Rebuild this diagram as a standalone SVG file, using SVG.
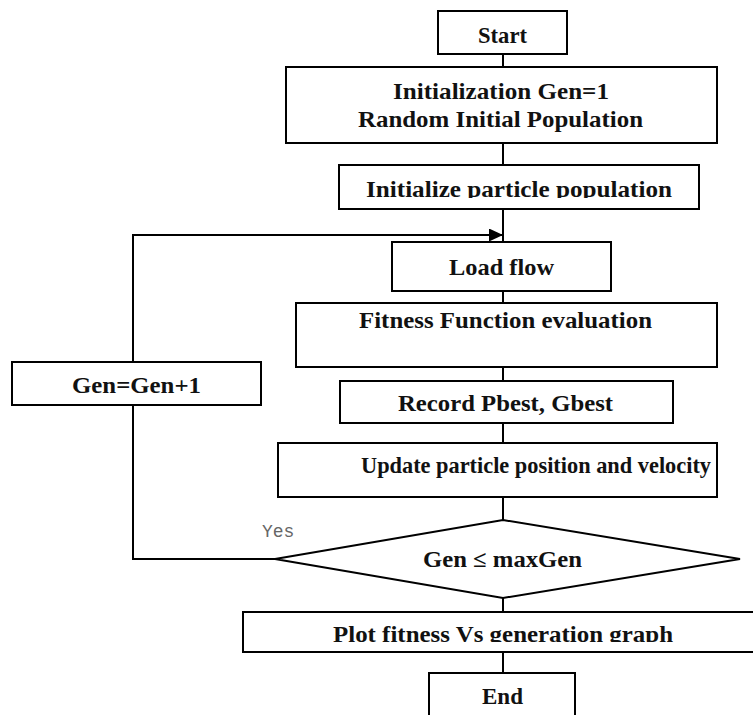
<svg xmlns="http://www.w3.org/2000/svg" width="753" height="715" viewBox="0 0 753 715">
<style>
.box{fill:#fff;stroke:#000;stroke-width:2}
.lbl{font-family:"Liberation Serif","Times New Roman",serif;font-weight:bold;font-size:23px;fill:#111;text-anchor:middle}
.yes{font-family:"Liberation Mono","Courier New",monospace;font-size:18px;fill:#666}
.con{fill:none;stroke:#000;stroke-width:2}
</style>
<defs>
<marker id="arr" viewBox="0 0 14 13" refX="14" refY="6.5" markerWidth="14" markerHeight="13" markerUnits="userSpaceOnUse" orient="auto">
<path d="M0,0 L14,6.5 L0,13 Z" fill="#000"/>
</marker>
<clipPath id="c1"><rect x="0" y="0" width="753" height="198"/></clipPath>
<clipPath id="c2"><rect x="0" y="0" width="753" height="642"/></clipPath>
</defs>
<rect width="753" height="715" fill="#fff"/>
<g id="connectors">
<path class="con" d="M503,54 V67"/>
<path class="con" d="M503,143 V165"/>
<path class="con" d="M503,209 V242"/>
<path class="con" d="M503,291 V303"/>
<path class="con" d="M503,367 V381"/>
<path class="con" d="M503,423 V443"/>
<path class="con" d="M503,497 V520"/>
<path class="con" d="M503,598 V612"/>
<path class="con" d="M503,652 V673"/>
<path class="con" d="M275,559 H133 V405"/>
<path class="con" d="M133,362 V235 H503" marker-end="url(#arr)"/>
</g>
<g id="start">
<rect class="box" x="438" y="11" width="129" height="43"/>
<text class="lbl" x="502.5" y="43" textLength="49" lengthAdjust="spacingAndGlyphs">Start</text>
</g>
<g id="init">
<rect class="box" x="286" y="67" width="431" height="76"/>
<text class="lbl" x="501" y="99" textLength="216" lengthAdjust="spacingAndGlyphs">Initialization Gen=1</text>
<text class="lbl" x="500.5" y="127" textLength="285" lengthAdjust="spacingAndGlyphs">Random Initial Population</text>
</g>
<g id="initparticle">
<rect class="box" x="339" y="165" width="360" height="44"/>
<text class="lbl" x="519" y="197" textLength="306" lengthAdjust="spacingAndGlyphs" clip-path="url(#c1)">Initialize particle population</text>
</g>
<g id="loadflow">
<rect class="box" x="392" y="242" width="219" height="49"/>
<text class="lbl" x="501.5" y="275" textLength="105" lengthAdjust="spacingAndGlyphs">Load flow</text>
</g>
<g id="fitness">
<rect class="box" x="296" y="303" width="421" height="64"/>
<text class="lbl" x="505.5" y="328" textLength="293" lengthAdjust="spacingAndGlyphs">Fitness Function evaluation</text>
</g>
<g id="record">
<rect class="box" x="340" y="381" width="333" height="42"/>
<text class="lbl" x="505.5" y="411" textLength="215" lengthAdjust="spacingAndGlyphs">Record Pbest, Gbest</text>
</g>
<g id="update">
<rect class="box" x="278" y="443" width="439" height="54"/>
<text class="lbl" x="536" y="473" textLength="350" lengthAdjust="spacingAndGlyphs">Update particle position and velocity</text>
</g>
<g id="decision">
<polygon class="box" points="503,520 740,559 503,598 275,559"/>
<text class="lbl" x="502.5" y="567" textLength="159" lengthAdjust="spacingAndGlyphs">Gen ≤ maxGen</text>
<text class="yes" x="262" y="537">Yes</text>
</g>
<g id="gen">
<rect class="box" x="12" y="362" width="249" height="43"/>
<text class="lbl" x="136.5" y="393" textLength="129" lengthAdjust="spacingAndGlyphs">Gen=Gen+1</text>
</g>
<g id="plot">
<rect class="box" x="243" y="612" width="520" height="40"/>
<text class="lbl" x="503" y="642" textLength="340" lengthAdjust="spacingAndGlyphs" clip-path="url(#c2)">Plot fitness Vs generation graph</text>
</g>
<g id="end">
<rect class="box" x="429" y="673" width="146" height="60"/>
<text class="lbl" x="502.5" y="704" textLength="41" lengthAdjust="spacingAndGlyphs">End</text>
</g>
</svg>
